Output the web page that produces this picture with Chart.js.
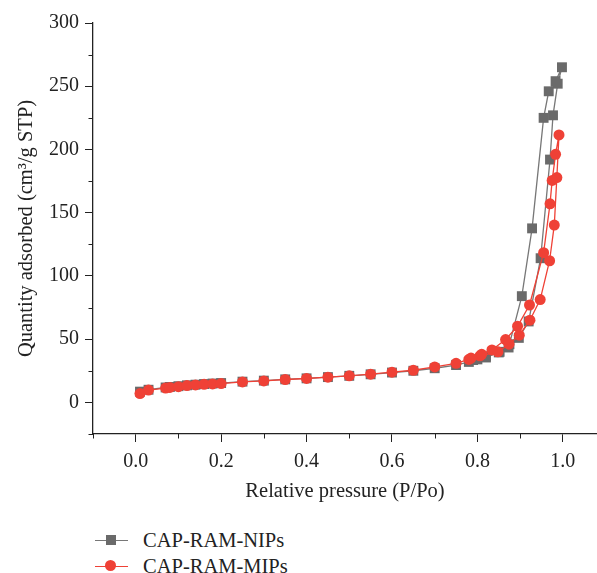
<!DOCTYPE html>
<html>
<head>
<meta charset="utf-8">
<script src="https://cdn.jsdelivr.net/npm/chart.js@4.4.1/dist/chart.umd.min.js"></script>
<style>
  body { margin: 0; background: #fff; }
  #wrap { position: relative; width: 597px; height: 573px; overflow: hidden; }
  #box { position: absolute; left: 0; top: 0; width: 604px; height: 510px; }
  .leg { position: absolute; left: 95px; height: 20px; font: 20.5px "Liberation Serif", serif; color: #222; }
  .leg .ln { position: absolute; left: 0; top: 10px; width: 33px; height: 1.3px; }
  .leg .mk { position: absolute; left: 11px; top: 5px; width: 10px; height: 10px; }
  .leg span { position: absolute; left: 48px; top: 0; white-space: nowrap; line-height: 20px; }
</style>
</head>
<body>
<div id="wrap">
  <div id="box"><canvas id="grafico"></canvas></div>
  <div class="leg" style="top:530px">
    <div class="ln" style="background:#777"></div>
    <div class="mk" style="background:#6a6a6a"></div>
    <span>CAP-RAM-NIPs</span>
  </div>
  <div class="leg" style="top:556px">
    <div class="ln" style="background:#ef4136"></div>
    <div class="mk" style="background:#ef4136;border-radius:50%;width:11px;height:11px;left:10px;top:4px"></div>
    <span>CAP-RAM-MIPs</span>
  </div>
</div>
<script>
// isotermas: adsorcao e depois dessorcao (P/Po, volume)
var nipPressure = [0.01, 0.03, 0.07, 0.08, 0.10, 0.12, 0.14, 0.16, 0.18, 0.20, 0.25, 0.30, 0.35, 0.40, 0.45, 0.50, 0.55, 0.60, 0.65, 0.70, 0.75, 0.78, 0.80, 0.82, 0.85, 0.873, 0.897, 0.92, 0.948, 0.970, 0.977, 0.988, 0.998,
                   0.983, 0.967, 0.955, 0.928, 0.904, 0.875, 0.852, 0.82, 0.79];
var nipQuantity = [8.5, 10, 11.8, 12.2, 12.8, 13.5, 14, 14.5, 14.9, 15.3, 16.4, 17.2, 18.2, 19, 20, 21, 22.2, 23.6, 25, 27, 29.5, 32, 34, 35.5, 39.5, 43.4, 51, 64, 114, 192, 227, 252, 265,
                   254, 246, 225, 137.6, 84, 46, 40, 36.5, 33.5];

var mipPressure = [0.01, 0.03, 0.07, 0.08, 0.10, 0.12, 0.14, 0.16, 0.18, 0.20, 0.25, 0.30, 0.35, 0.40, 0.45, 0.50, 0.55, 0.60, 0.65, 0.70, 0.75, 0.78, 0.806, 0.848, 0.874, 0.898, 0.923, 0.947, 0.969, 0.980, 0.986, 0.991,
                   0.983, 0.975, 0.970, 0.955, 0.922, 0.894, 0.866, 0.834, 0.81, 0.785];
var mipQuantity = [7, 9.7, 11.3, 11.8, 12.4, 13.3, 13.8, 14.3, 14.6, 14.9, 16.2, 17, 18.1, 18.9, 19.9, 21, 22.3, 23.9, 25.4, 28, 30.9, 34, 36.8, 40, 46, 53.1, 65, 81.3, 112, 140.2, 177.8, 211.5,
                   196.2, 175.5, 157, 118.4, 77, 60.2, 49.7, 41.5, 38, 35];

var xLabels = ['0.0', '0.2', '0.4', '0.6', '0.8', '1.0'];
var yLabels = ['0', '50', '100', '150', '200', '250', '300'];

function pontos(px, py) {
    return px.map(function (p, i) { return {x: p, y: py[i]}; });
}

var fonte = {family: '"Liberation Serif", serif', size: 20};

// tick maior so onde tem rotulo; os menores sao desenhados curtos pelo plugin
function corTick(ctx) {
    return ctx.tick && ctx.tick.label !== '' ? '#222' : 'rgba(0,0,0,0)';
}

var ticksMenores = {
    id: 'ticksMenores',
    afterDraw: function (chart) {
        var c = chart.ctx;
        c.save();
        c.strokeStyle = '#222';
        c.lineWidth = 1;
        chart.scales.x.ticks.forEach(function (t) {
            if (t.label !== '') return;
            var px = Math.round(chart.scales.x.getPixelForValue(t.value)) + 0.5;
            c.beginPath();
            c.moveTo(px, chart.chartArea.bottom);
            c.lineTo(px, chart.chartArea.bottom + 4.5);
            c.stroke();
        });
        chart.scales.y.ticks.forEach(function (t) {
            if (t.label !== '') return;
            var py = Math.round(chart.scales.y.getPixelForValue(t.value)) + 0.5;
            c.beginPath();
            c.moveTo(chart.chartArea.left, py);
            c.lineTo(chart.chartArea.left - 4.5, py);
            c.stroke();
        });
        c.restore();
    }
};

var chart = new Chart(document.getElementById('grafico').getContext('2d'), {
    type: 'scatter',
    data: {
        datasets: [{
            label: 'CAP-RAM-NIPs',
            data: pontos(nipPressure, nipQuantity),
            showLine: true,
            borderColor: '#777777',
            borderWidth: 1.3,
            backgroundColor: '#6a6a6a',
            pointStyle: 'rect',
            pointRadius: 7,
            pointBorderWidth: 0,
            order: 2
        }, {
            label: 'CAP-RAM-MIPs',
            data: pontos(mipPressure, mipQuantity),
            showLine: true,
            borderColor: '#ef4136',
            borderWidth: 1.3,
            backgroundColor: '#ef4136',
            pointStyle: 'circle',
            pointRadius: 5.5,
            pointBorderWidth: 0,
            order: 1
        }]
    },
    options: {
        responsive: true,
        maintainAspectRatio: false,
        animation: false,
        layout: {padding: {top: 23, right: 0, left: 0, bottom: 0}},
        plugins: {legend: {display: false}, tooltip: {enabled: false}},
        scales: {
            x: {
                type: 'linear',
                min: -0.1,
                max: 1.08,
                afterFit: function (s) { s.height = 76; s.paddingRight = 0; s.paddingLeft = 0; },
                ticks: {
                    stepSize: 0.1,
                    includeBounds: false,
                    color: '#222',
                    font: fonte,
                    padding: 8,
                    maxRotation: 0,
                    autoSkip: false,
                    callback: function (v) {
                        var lbl = Number(v).toFixed(1);
                        return xLabels.indexOf(lbl) > -1 ? lbl : '';
                    }
                },
                grid: {drawOnChartArea: false, drawTicks: true, tickLength: 8, color: '#222', tickColor: corTick},
                border: {color: '#222', width: 1.3},
                title: {display: true, text: 'Relative pressure (P/Po)', color: '#222', font: {family: '"Liberation Serif", serif', size: 20.5}, padding: {top: 0, bottom: 6}}
            },
            y: {
                type: 'linear',
                min: -25,
                max: 300,
                afterFit: function (s) { s.width = 93; },
                ticks: {
                    stepSize: 25,
                    color: '#222',
                    font: fonte,
                    padding: 6,
                    autoSkip: false,
                    callback: function (v) {
                        var lbl = String(v);
                        return yLabels.indexOf(lbl) > -1 ? lbl : '';
                    }
                },
                grid: {drawOnChartArea: false, drawTicks: true, tickLength: 8, color: '#222', tickColor: corTick},
                border: {color: '#222', width: 1.3},
                title: {display: true, text: 'Quantity adsorbed (cm³/g STP)', color: '#222', font: {family: '"Liberation Serif", serif', size: 20.5}, padding: {top: 14, bottom: 0}}
            }
        }
    },
    plugins: [ticksMenores]
});
</script>
</body>
</html>
